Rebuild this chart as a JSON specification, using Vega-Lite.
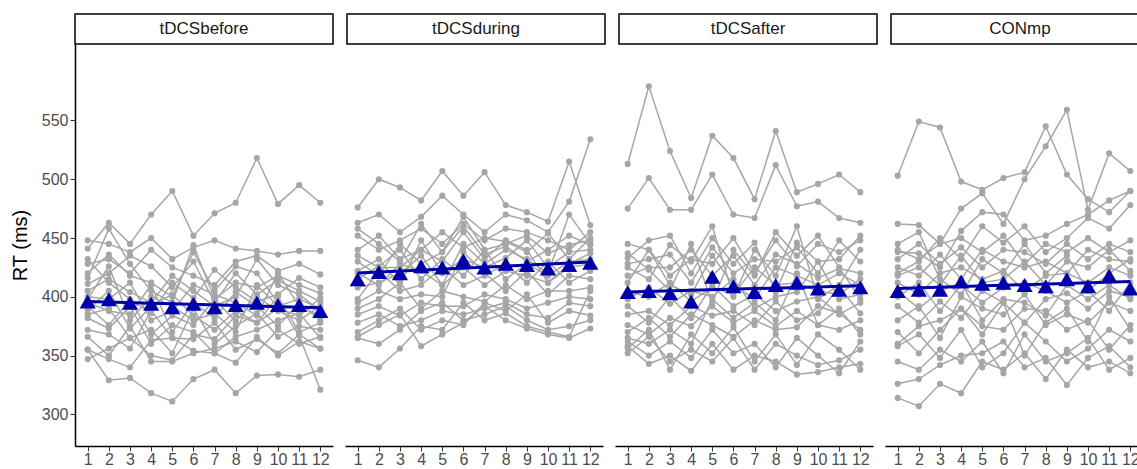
{
  "$schema": "https://vega.github.io/schema/vega-lite/v6.json",
  "padding": {"left": 10, "top": 13, "right": 0, "bottom": 0},
  "bounds": "flush",
  "spacing": 30,
  "config": {
    "view": {"stroke": null},
    "font": "Liberation Sans",
    "axis": {
      "grid": false,
      "domainColor": "black",
      "domainWidth": 1.5,
      "tickColor": "#333333",
      "tickWidth": 1,
      "tickSize": 5,
      "labelColor": "#4d4d4d",
      "labelFontSize": 16,
      "labelFont": "Liberation Sans",
      "labelPadding": 2,
      "titleFont": "Liberation Sans",
      "titleFontSize": 20,
      "titleFontWeight": "normal",
      "titleColor": "black"
    },
    "text": {"fontSize": 17}
  },
  "datasets": {
    "rt": [
      {"c":"tDCSbefore","s":1,"b":1,"y":441},{"c":"tDCSbefore","s":1,"b":2,"y":463},{"c":"tDCSbefore","s":1,"b":3,"y":445},{"c":"tDCSbefore","s":1,"b":4,"y":470},{"c":"tDCSbefore","s":1,"b":5,"y":490},{"c":"tDCSbefore","s":1,"b":6,"y":452},{"c":"tDCSbefore","s":1,"b":7,"y":471},{"c":"tDCSbefore","s":1,"b":8,"y":480},{"c":"tDCSbefore","s":1,"b":9,"y":518},{"c":"tDCSbefore","s":1,"b":10,"y":479},{"c":"tDCSbefore","s":1,"b":11,"y":495},{"c":"tDCSbefore","s":1,"b":12,"y":480},
      {"c":"tDCSbefore","s":2,"b":1,"y":355},{"c":"tDCSbefore","s":2,"b":2,"y":329},{"c":"tDCSbefore","s":2,"b":3,"y":331},{"c":"tDCSbefore","s":2,"b":4,"y":318},{"c":"tDCSbefore","s":2,"b":5,"y":311},{"c":"tDCSbefore","s":2,"b":6,"y":330},{"c":"tDCSbefore","s":2,"b":7,"y":338},{"c":"tDCSbefore","s":2,"b":8,"y":318},{"c":"tDCSbefore","s":2,"b":9,"y":333},{"c":"tDCSbefore","s":2,"b":10,"y":334},{"c":"tDCSbefore","s":2,"b":11,"y":332},{"c":"tDCSbefore","s":2,"b":12,"y":338},
      {"c":"tDCSbefore","s":3,"b":1,"y":420},{"c":"tDCSbefore","s":3,"b":2,"y":436},{"c":"tDCSbefore","s":3,"b":3,"y":418},{"c":"tDCSbefore","s":3,"b":4,"y":412},{"c":"tDCSbefore","s":3,"b":5,"y":400},{"c":"tDCSbefore","s":3,"b":6,"y":438},{"c":"tDCSbefore","s":3,"b":7,"y":405},{"c":"tDCSbefore","s":3,"b":8,"y":426},{"c":"tDCSbefore","s":3,"b":9,"y":420},{"c":"tDCSbefore","s":3,"b":10,"y":395},{"c":"tDCSbefore","s":3,"b":11,"y":367},{"c":"tDCSbefore","s":3,"b":12,"y":321},
      {"c":"tDCSbefore","s":4,"b":1,"y":448},{"c":"tDCSbefore","s":4,"b":2,"y":445},{"c":"tDCSbefore","s":4,"b":3,"y":438},{"c":"tDCSbefore","s":4,"b":4,"y":450},{"c":"tDCSbefore","s":4,"b":5,"y":432},{"c":"tDCSbefore","s":4,"b":6,"y":442},{"c":"tDCSbefore","s":4,"b":7,"y":448},{"c":"tDCSbefore","s":4,"b":8,"y":441},{"c":"tDCSbefore","s":4,"b":9,"y":439},{"c":"tDCSbefore","s":4,"b":10,"y":436},{"c":"tDCSbefore","s":4,"b":11,"y":439},{"c":"tDCSbefore","s":4,"b":12,"y":439},
      {"c":"tDCSbefore","s":5,"b":1,"y":428},{"c":"tDCSbefore","s":5,"b":2,"y":432},{"c":"tDCSbefore","s":5,"b":3,"y":420},{"c":"tDCSbefore","s":5,"b":4,"y":440},{"c":"tDCSbefore","s":5,"b":5,"y":425},{"c":"tDCSbefore","s":5,"b":6,"y":418},{"c":"tDCSbefore","s":5,"b":7,"y":410},{"c":"tDCSbefore","s":5,"b":8,"y":430},{"c":"tDCSbefore","s":5,"b":9,"y":435},{"c":"tDCSbefore","s":5,"b":10,"y":422},{"c":"tDCSbefore","s":5,"b":11,"y":428},{"c":"tDCSbefore","s":5,"b":12,"y":419},
      {"c":"tDCSbefore","s":6,"b":1,"y":416},{"c":"tDCSbefore","s":6,"b":2,"y":458},{"c":"tDCSbefore","s":6,"b":3,"y":428},{"c":"tDCSbefore","s":6,"b":4,"y":405},{"c":"tDCSbefore","s":6,"b":5,"y":395},{"c":"tDCSbefore","s":6,"b":6,"y":444},{"c":"tDCSbefore","s":6,"b":7,"y":398},{"c":"tDCSbefore","s":6,"b":8,"y":412},{"c":"tDCSbefore","s":6,"b":9,"y":408},{"c":"tDCSbefore","s":6,"b":10,"y":418},{"c":"tDCSbefore","s":6,"b":11,"y":410},{"c":"tDCSbefore","s":6,"b":12,"y":403},
      {"c":"tDCSbefore","s":7,"b":1,"y":411},{"c":"tDCSbefore","s":7,"b":2,"y":420},{"c":"tDCSbefore","s":7,"b":3,"y":435},{"c":"tDCSbefore","s":7,"b":4,"y":426},{"c":"tDCSbefore","s":7,"b":5,"y":408},{"c":"tDCSbefore","s":7,"b":6,"y":430},{"c":"tDCSbefore","s":7,"b":7,"y":395},{"c":"tDCSbefore","s":7,"b":8,"y":420},{"c":"tDCSbefore","s":7,"b":9,"y":402},{"c":"tDCSbefore","s":7,"b":10,"y":414},{"c":"tDCSbefore","s":7,"b":11,"y":405},{"c":"tDCSbefore","s":7,"b":12,"y":396},
      {"c":"tDCSbefore","s":8,"b":1,"y":405},{"c":"tDCSbefore","s":8,"b":2,"y":415},{"c":"tDCSbefore","s":8,"b":3,"y":404},{"c":"tDCSbefore","s":8,"b":4,"y":395},{"c":"tDCSbefore","s":8,"b":5,"y":418},{"c":"tDCSbefore","s":8,"b":6,"y":405},{"c":"tDCSbefore","s":8,"b":7,"y":392},{"c":"tDCSbefore","s":8,"b":8,"y":400},{"c":"tDCSbefore","s":8,"b":9,"y":432},{"c":"tDCSbefore","s":8,"b":10,"y":410},{"c":"tDCSbefore","s":8,"b":11,"y":402},{"c":"tDCSbefore","s":8,"b":12,"y":388},
      {"c":"tDCSbefore","s":9,"b":1,"y":400},{"c":"tDCSbefore","s":9,"b":2,"y":398},{"c":"tDCSbefore","s":9,"b":3,"y":412},{"c":"tDCSbefore","s":9,"b":4,"y":380},{"c":"tDCSbefore","s":9,"b":5,"y":388},{"c":"tDCSbefore","s":9,"b":6,"y":410},{"c":"tDCSbefore","s":9,"b":7,"y":402},{"c":"tDCSbefore","s":9,"b":8,"y":395},{"c":"tDCSbefore","s":9,"b":9,"y":384},{"c":"tDCSbefore","s":9,"b":10,"y":420},{"c":"tDCSbefore","s":9,"b":11,"y":392},{"c":"tDCSbefore","s":9,"b":12,"y":384},
      {"c":"tDCSbefore","s":10,"b":1,"y":395},{"c":"tDCSbefore","s":10,"b":2,"y":388},{"c":"tDCSbefore","s":10,"b":3,"y":385},{"c":"tDCSbefore","s":10,"b":4,"y":410},{"c":"tDCSbefore","s":10,"b":5,"y":370},{"c":"tDCSbefore","s":10,"b":6,"y":395},{"c":"tDCSbefore","s":10,"b":7,"y":382},{"c":"tDCSbefore","s":10,"b":8,"y":404},{"c":"tDCSbefore","s":10,"b":9,"y":392},{"c":"tDCSbefore","s":10,"b":10,"y":375},{"c":"tDCSbefore","s":10,"b":11,"y":395},{"c":"tDCSbefore","s":10,"b":12,"y":380},
      {"c":"tDCSbefore","s":11,"b":1,"y":392},{"c":"tDCSbefore","s":11,"b":2,"y":376},{"c":"tDCSbefore","s":11,"b":3,"y":397},{"c":"tDCSbefore","s":11,"b":4,"y":368},{"c":"tDCSbefore","s":11,"b":5,"y":384},{"c":"tDCSbefore","s":11,"b":6,"y":376},{"c":"tDCSbefore","s":11,"b":7,"y":398},{"c":"tDCSbefore","s":11,"b":8,"y":379},{"c":"tDCSbefore","s":11,"b":9,"y":400},{"c":"tDCSbefore","s":11,"b":10,"y":388},{"c":"tDCSbefore","s":11,"b":11,"y":380},{"c":"tDCSbefore","s":11,"b":12,"y":392},
      {"c":"tDCSbefore","s":12,"b":1,"y":389},{"c":"tDCSbefore","s":12,"b":2,"y":405},{"c":"tDCSbefore","s":12,"b":3,"y":373},{"c":"tDCSbefore","s":12,"b":4,"y":392},{"c":"tDCSbefore","s":12,"b":5,"y":402},{"c":"tDCSbefore","s":12,"b":6,"y":384},{"c":"tDCSbefore","s":12,"b":7,"y":372},{"c":"tDCSbefore","s":12,"b":8,"y":388},{"c":"tDCSbefore","s":12,"b":9,"y":378},{"c":"tDCSbefore","s":12,"b":10,"y":400},{"c":"tDCSbefore","s":12,"b":11,"y":370},{"c":"tDCSbefore","s":12,"b":12,"y":378},
      {"c":"tDCSbefore","s":13,"b":1,"y":385},{"c":"tDCSbefore","s":13,"b":2,"y":390},{"c":"tDCSbefore","s":13,"b":3,"y":365},{"c":"tDCSbefore","s":13,"b":4,"y":372},{"c":"tDCSbefore","s":13,"b":5,"y":352},{"c":"tDCSbefore","s":13,"b":6,"y":390},{"c":"tDCSbefore","s":13,"b":7,"y":360},{"c":"tDCSbefore","s":13,"b":8,"y":375},{"c":"tDCSbefore","s":13,"b":9,"y":386},{"c":"tDCSbefore","s":13,"b":10,"y":366},{"c":"tDCSbefore","s":13,"b":11,"y":375},{"c":"tDCSbefore","s":13,"b":12,"y":372},
      {"c":"tDCSbefore","s":14,"b":1,"y":382},{"c":"tDCSbefore","s":14,"b":2,"y":373},{"c":"tDCSbefore","s":14,"b":3,"y":392},{"c":"tDCSbefore","s":14,"b":4,"y":360},{"c":"tDCSbefore","s":14,"b":5,"y":376},{"c":"tDCSbefore","s":14,"b":6,"y":370},{"c":"tDCSbefore","s":14,"b":7,"y":352},{"c":"tDCSbefore","s":14,"b":8,"y":366},{"c":"tDCSbefore","s":14,"b":9,"y":372},{"c":"tDCSbefore","s":14,"b":10,"y":380},{"c":"tDCSbefore","s":14,"b":11,"y":386},{"c":"tDCSbefore","s":14,"b":12,"y":365},
      {"c":"tDCSbefore","s":15,"b":1,"y":372},{"c":"tDCSbefore","s":15,"b":2,"y":368},{"c":"tDCSbefore","s":15,"b":3,"y":356},{"c":"tDCSbefore","s":15,"b":4,"y":388},{"c":"tDCSbefore","s":15,"b":5,"y":365},{"c":"tDCSbefore","s":15,"b":6,"y":364},{"c":"tDCSbefore","s":15,"b":7,"y":378},{"c":"tDCSbefore","s":15,"b":8,"y":355},{"c":"tDCSbefore","s":15,"b":9,"y":364},{"c":"tDCSbefore","s":15,"b":10,"y":352},{"c":"tDCSbefore","s":15,"b":11,"y":368},{"c":"tDCSbefore","s":15,"b":12,"y":356},
      {"c":"tDCSbefore","s":16,"b":1,"y":366},{"c":"tDCSbefore","s":16,"b":2,"y":350},{"c":"tDCSbefore","s":16,"b":3,"y":375},{"c":"tDCSbefore","s":16,"b":4,"y":345},{"c":"tDCSbefore","s":16,"b":5,"y":345},{"c":"tDCSbefore","s":16,"b":6,"y":352},{"c":"tDCSbefore","s":16,"b":7,"y":356},{"c":"tDCSbefore","s":16,"b":8,"y":362},{"c":"tDCSbefore","s":16,"b":9,"y":353},{"c":"tDCSbefore","s":16,"b":10,"y":372},{"c":"tDCSbefore","s":16,"b":11,"y":360},{"c":"tDCSbefore","s":16,"b":12,"y":366},
      {"c":"tDCSbefore","s":17,"b":1,"y":355},{"c":"tDCSbefore","s":17,"b":2,"y":347},{"c":"tDCSbefore","s":17,"b":3,"y":340},{"c":"tDCSbefore","s":17,"b":4,"y":363},{"c":"tDCSbefore","s":17,"b":5,"y":365},{"c":"tDCSbefore","s":17,"b":6,"y":354},{"c":"tDCSbefore","s":17,"b":7,"y":352},{"c":"tDCSbefore","s":17,"b":8,"y":344},{"c":"tDCSbefore","s":17,"b":9,"y":366},{"c":"tDCSbefore","s":17,"b":10,"y":350},{"c":"tDCSbefore","s":17,"b":11,"y":362},{"c":"tDCSbefore","s":17,"b":12,"y":356},
      {"c":"tDCSbefore","s":18,"b":1,"y":347},{"c":"tDCSbefore","s":18,"b":2,"y":356},{"c":"tDCSbefore","s":18,"b":3,"y":365},{"c":"tDCSbefore","s":18,"b":4,"y":350},{"c":"tDCSbefore","s":18,"b":5,"y":346},{"c":"tDCSbefore","s":18,"b":6,"y":368},{"c":"tDCSbefore","s":18,"b":7,"y":364},{"c":"tDCSbefore","s":18,"b":8,"y":384},{"c":"tDCSbefore","s":18,"b":9,"y":378},{"c":"tDCSbefore","s":18,"b":10,"y":390},{"c":"tDCSbefore","s":18,"b":11,"y":384},{"c":"tDCSbefore","s":18,"b":12,"y":399},
      {"c":"tDCSbefore","s":19,"b":1,"y":432},{"c":"tDCSbefore","s":19,"b":2,"y":412},{"c":"tDCSbefore","s":19,"b":3,"y":398},{"c":"tDCSbefore","s":19,"b":4,"y":386},{"c":"tDCSbefore","s":19,"b":5,"y":412},{"c":"tDCSbefore","s":19,"b":6,"y":399},{"c":"tDCSbefore","s":19,"b":7,"y":423},{"c":"tDCSbefore","s":19,"b":8,"y":408},{"c":"tDCSbefore","s":19,"b":9,"y":396},{"c":"tDCSbefore","s":19,"b":10,"y":402},{"c":"tDCSbefore","s":19,"b":11,"y":416},{"c":"tDCSbefore","s":19,"b":12,"y":408},
      {"c":"tDCSbefore","s":20,"b":1,"y":398},{"c":"tDCSbefore","s":20,"b":2,"y":426},{"c":"tDCSbefore","s":20,"b":3,"y":380},{"c":"tDCSbefore","s":20,"b":4,"y":400},{"c":"tDCSbefore","s":20,"b":5,"y":392},{"c":"tDCSbefore","s":20,"b":6,"y":380},{"c":"tDCSbefore","s":20,"b":7,"y":386},{"c":"tDCSbefore","s":20,"b":8,"y":370},{"c":"tDCSbefore","s":20,"b":9,"y":410},{"c":"tDCSbefore","s":20,"b":10,"y":392},{"c":"tDCSbefore","s":20,"b":11,"y":398},{"c":"tDCSbefore","s":20,"b":12,"y":390},

      {"c":"tDCSduring","s":1,"b":1,"y":476},{"c":"tDCSduring","s":1,"b":2,"y":500},{"c":"tDCSduring","s":1,"b":3,"y":493},{"c":"tDCSduring","s":1,"b":4,"y":482},{"c":"tDCSduring","s":1,"b":5,"y":507},{"c":"tDCSduring","s":1,"b":6,"y":486},{"c":"tDCSduring","s":1,"b":7,"y":506},{"c":"tDCSduring","s":1,"b":8,"y":478},{"c":"tDCSduring","s":1,"b":9,"y":472},{"c":"tDCSduring","s":1,"b":10,"y":464},{"c":"tDCSduring","s":1,"b":11,"y":515},{"c":"tDCSduring","s":1,"b":12,"y":461},
      {"c":"tDCSduring","s":2,"b":1,"y":463},{"c":"tDCSduring","s":2,"b":2,"y":470},{"c":"tDCSduring","s":2,"b":3,"y":455},{"c":"tDCSduring","s":2,"b":4,"y":468},{"c":"tDCSduring","s":2,"b":5,"y":486},{"c":"tDCSduring","s":2,"b":6,"y":470},{"c":"tDCSduring","s":2,"b":7,"y":455},{"c":"tDCSduring","s":2,"b":8,"y":470},{"c":"tDCSduring","s":2,"b":9,"y":465},{"c":"tDCSduring","s":2,"b":10,"y":455},{"c":"tDCSduring","s":2,"b":11,"y":481},{"c":"tDCSduring","s":2,"b":12,"y":534},
      {"c":"tDCSduring","s":3,"b":1,"y":346},{"c":"tDCSduring","s":3,"b":2,"y":340},{"c":"tDCSduring","s":3,"b":3,"y":356},{"c":"tDCSduring","s":3,"b":4,"y":375},{"c":"tDCSduring","s":3,"b":5,"y":372},{"c":"tDCSduring","s":3,"b":6,"y":395},{"c":"tDCSduring","s":3,"b":7,"y":380},{"c":"tDCSduring","s":3,"b":8,"y":386},{"c":"tDCSduring","s":3,"b":9,"y":375},{"c":"tDCSduring","s":3,"b":10,"y":370},{"c":"tDCSduring","s":3,"b":11,"y":366},{"c":"tDCSduring","s":3,"b":12,"y":405},
      {"c":"tDCSduring","s":4,"b":1,"y":366},{"c":"tDCSduring","s":4,"b":2,"y":376},{"c":"tDCSduring","s":4,"b":3,"y":385},{"c":"tDCSduring","s":4,"b":4,"y":358},{"c":"tDCSduring","s":4,"b":5,"y":368},{"c":"tDCSduring","s":4,"b":6,"y":378},{"c":"tDCSduring","s":4,"b":7,"y":392},{"c":"tDCSduring","s":4,"b":8,"y":380},{"c":"tDCSduring","s":4,"b":9,"y":373},{"c":"tDCSduring","s":4,"b":10,"y":368},{"c":"tDCSduring","s":4,"b":11,"y":365},{"c":"tDCSduring","s":4,"b":12,"y":373},
      {"c":"tDCSduring","s":5,"b":1,"y":452},{"c":"tDCSduring","s":5,"b":2,"y":440},{"c":"tDCSduring","s":5,"b":3,"y":448},{"c":"tDCSduring","s":5,"b":4,"y":458},{"c":"tDCSduring","s":5,"b":5,"y":445},{"c":"tDCSduring","s":5,"b":6,"y":462},{"c":"tDCSduring","s":5,"b":7,"y":448},{"c":"tDCSduring","s":5,"b":8,"y":458},{"c":"tDCSduring","s":5,"b":9,"y":455},{"c":"tDCSduring","s":5,"b":10,"y":448},{"c":"tDCSduring","s":5,"b":11,"y":440},{"c":"tDCSduring","s":5,"b":12,"y":455},
      {"c":"tDCSduring","s":6,"b":1,"y":440},{"c":"tDCSduring","s":6,"b":2,"y":452},{"c":"tDCSduring","s":6,"b":3,"y":432},{"c":"tDCSduring","s":6,"b":4,"y":440},{"c":"tDCSduring","s":6,"b":5,"y":455},{"c":"tDCSduring","s":6,"b":6,"y":442},{"c":"tDCSduring","s":6,"b":7,"y":450},{"c":"tDCSduring","s":6,"b":8,"y":447},{"c":"tDCSduring","s":6,"b":9,"y":438},{"c":"tDCSduring","s":6,"b":10,"y":454},{"c":"tDCSduring","s":6,"b":11,"y":432},{"c":"tDCSduring","s":6,"b":12,"y":450},
      {"c":"tDCSduring","s":7,"b":1,"y":430},{"c":"tDCSduring","s":7,"b":2,"y":418},{"c":"tDCSduring","s":7,"b":3,"y":445},{"c":"tDCSduring","s":7,"b":4,"y":428},{"c":"tDCSduring","s":7,"b":5,"y":438},{"c":"tDCSduring","s":7,"b":6,"y":460},{"c":"tDCSduring","s":7,"b":7,"y":436},{"c":"tDCSduring","s":7,"b":8,"y":443},{"c":"tDCSduring","s":7,"b":9,"y":430},{"c":"tDCSduring","s":7,"b":10,"y":440},{"c":"tDCSduring","s":7,"b":11,"y":452},{"c":"tDCSduring","s":7,"b":12,"y":444},
      {"c":"tDCSduring","s":8,"b":1,"y":422},{"c":"tDCSduring","s":8,"b":2,"y":432},{"c":"tDCSduring","s":8,"b":3,"y":410},{"c":"tDCSduring","s":8,"b":4,"y":448},{"c":"tDCSduring","s":8,"b":5,"y":420},{"c":"tDCSduring","s":8,"b":6,"y":432},{"c":"tDCSduring","s":8,"b":7,"y":425},{"c":"tDCSduring","s":8,"b":8,"y":433},{"c":"tDCSduring","s":8,"b":9,"y":448},{"c":"tDCSduring","s":8,"b":10,"y":425},{"c":"tDCSduring","s":8,"b":11,"y":438},{"c":"tDCSduring","s":8,"b":12,"y":440},
      {"c":"tDCSduring","s":9,"b":1,"y":415},{"c":"tDCSduring","s":9,"b":2,"y":426},{"c":"tDCSduring","s":9,"b":3,"y":440},{"c":"tDCSduring","s":9,"b":4,"y":415},{"c":"tDCSduring","s":9,"b":5,"y":432},{"c":"tDCSduring","s":9,"b":6,"y":418},{"c":"tDCSduring","s":9,"b":7,"y":440},{"c":"tDCSduring","s":9,"b":8,"y":415},{"c":"tDCSduring","s":9,"b":9,"y":428},{"c":"tDCSduring","s":9,"b":10,"y":418},{"c":"tDCSduring","s":9,"b":11,"y":430},{"c":"tDCSduring","s":9,"b":12,"y":432},
      {"c":"tDCSduring","s":10,"b":1,"y":408},{"c":"tDCSduring","s":10,"b":2,"y":412},{"c":"tDCSduring","s":10,"b":3,"y":420},{"c":"tDCSduring","s":10,"b":4,"y":435},{"c":"tDCSduring","s":10,"b":5,"y":410},{"c":"tDCSduring","s":10,"b":6,"y":425},{"c":"tDCSduring","s":10,"b":7,"y":410},{"c":"tDCSduring","s":10,"b":8,"y":422},{"c":"tDCSduring","s":10,"b":9,"y":418},{"c":"tDCSduring","s":10,"b":10,"y":412},{"c":"tDCSduring","s":10,"b":11,"y":425},{"c":"tDCSduring","s":10,"b":12,"y":428},
      {"c":"tDCSduring","s":11,"b":1,"y":398},{"c":"tDCSduring","s":11,"b":2,"y":422},{"c":"tDCSduring","s":11,"b":3,"y":405},{"c":"tDCSduring","s":11,"b":4,"y":410},{"c":"tDCSduring","s":11,"b":5,"y":425},{"c":"tDCSduring","s":11,"b":6,"y":410},{"c":"tDCSduring","s":11,"b":7,"y":418},{"c":"tDCSduring","s":11,"b":8,"y":428},{"c":"tDCSduring","s":11,"b":9,"y":412},{"c":"tDCSduring","s":11,"b":10,"y":430},{"c":"tDCSduring","s":11,"b":11,"y":412},{"c":"tDCSduring","s":11,"b":12,"y":422},
      {"c":"tDCSduring","s":12,"b":1,"y":395},{"c":"tDCSduring","s":12,"b":2,"y":405},{"c":"tDCSduring","s":12,"b":3,"y":398},{"c":"tDCSduring","s":12,"b":4,"y":402},{"c":"tDCSduring","s":12,"b":5,"y":400},{"c":"tDCSduring","s":12,"b":6,"y":438},{"c":"tDCSduring","s":12,"b":7,"y":420},{"c":"tDCSduring","s":12,"b":8,"y":405},{"c":"tDCSduring","s":12,"b":9,"y":422},{"c":"tDCSduring","s":12,"b":10,"y":402},{"c":"tDCSduring","s":12,"b":11,"y":418},{"c":"tDCSduring","s":12,"b":12,"y":415},
      {"c":"tDCSduring","s":13,"b":1,"y":390},{"c":"tDCSduring","s":13,"b":2,"y":398},{"c":"tDCSduring","s":13,"b":3,"y":412},{"c":"tDCSduring","s":13,"b":4,"y":390},{"c":"tDCSduring","s":13,"b":5,"y":405},{"c":"tDCSduring","s":13,"b":6,"y":400},{"c":"tDCSduring","s":13,"b":7,"y":396},{"c":"tDCSduring","s":13,"b":8,"y":410},{"c":"tDCSduring","s":13,"b":9,"y":398},{"c":"tDCSduring","s":13,"b":10,"y":405},{"c":"tDCSduring","s":13,"b":11,"y":405},{"c":"tDCSduring","s":13,"b":12,"y":408},
      {"c":"tDCSduring","s":14,"b":1,"y":385},{"c":"tDCSduring","s":14,"b":2,"y":392},{"c":"tDCSduring","s":14,"b":3,"y":384},{"c":"tDCSduring","s":14,"b":4,"y":395},{"c":"tDCSduring","s":14,"b":5,"y":392},{"c":"tDCSduring","s":14,"b":6,"y":392},{"c":"tDCSduring","s":14,"b":7,"y":402},{"c":"tDCSduring","s":14,"b":8,"y":398},{"c":"tDCSduring","s":14,"b":9,"y":390},{"c":"tDCSduring","s":14,"b":10,"y":395},{"c":"tDCSduring","s":14,"b":11,"y":400},{"c":"tDCSduring","s":14,"b":12,"y":398},
      {"c":"tDCSduring","s":15,"b":1,"y":378},{"c":"tDCSduring","s":15,"b":2,"y":385},{"c":"tDCSduring","s":15,"b":3,"y":375},{"c":"tDCSduring","s":15,"b":4,"y":380},{"c":"tDCSduring","s":15,"b":5,"y":388},{"c":"tDCSduring","s":15,"b":6,"y":385},{"c":"tDCSduring","s":15,"b":7,"y":390},{"c":"tDCSduring","s":15,"b":8,"y":395},{"c":"tDCSduring","s":15,"b":9,"y":385},{"c":"tDCSduring","s":15,"b":10,"y":382},{"c":"tDCSduring","s":15,"b":11,"y":395},{"c":"tDCSduring","s":15,"b":12,"y":392},
      {"c":"tDCSduring","s":16,"b":1,"y":370},{"c":"tDCSduring","s":16,"b":2,"y":380},{"c":"tDCSduring","s":16,"b":3,"y":390},{"c":"tDCSduring","s":16,"b":4,"y":372},{"c":"tDCSduring","s":16,"b":5,"y":380},{"c":"tDCSduring","s":16,"b":6,"y":376},{"c":"tDCSduring","s":16,"b":7,"y":395},{"c":"tDCSduring","s":16,"b":8,"y":388},{"c":"tDCSduring","s":16,"b":9,"y":402},{"c":"tDCSduring","s":16,"b":10,"y":378},{"c":"tDCSduring","s":16,"b":11,"y":388},{"c":"tDCSduring","s":16,"b":12,"y":384},
      {"c":"tDCSduring","s":17,"b":1,"y":365},{"c":"tDCSduring","s":17,"b":2,"y":360},{"c":"tDCSduring","s":17,"b":3,"y":372},{"c":"tDCSduring","s":17,"b":4,"y":388},{"c":"tDCSduring","s":17,"b":5,"y":395},{"c":"tDCSduring","s":17,"b":6,"y":380},{"c":"tDCSduring","s":17,"b":7,"y":385},{"c":"tDCSduring","s":17,"b":8,"y":392},{"c":"tDCSduring","s":17,"b":9,"y":380},{"c":"tDCSduring","s":17,"b":10,"y":372},{"c":"tDCSduring","s":17,"b":11,"y":375},{"c":"tDCSduring","s":17,"b":12,"y":380},
      {"c":"tDCSduring","s":18,"b":1,"y":420},{"c":"tDCSduring","s":18,"b":2,"y":410},{"c":"tDCSduring","s":18,"b":3,"y":428},{"c":"tDCSduring","s":18,"b":4,"y":422},{"c":"tDCSduring","s":18,"b":5,"y":410},{"c":"tDCSduring","s":18,"b":6,"y":445},{"c":"tDCSduring","s":18,"b":7,"y":428},{"c":"tDCSduring","s":18,"b":8,"y":440},{"c":"tDCSduring","s":18,"b":9,"y":432},{"c":"tDCSduring","s":18,"b":10,"y":420},{"c":"tDCSduring","s":18,"b":11,"y":470},{"c":"tDCSduring","s":18,"b":12,"y":445},
      {"c":"tDCSduring","s":19,"b":1,"y":435},{"c":"tDCSduring","s":19,"b":2,"y":425},{"c":"tDCSduring","s":19,"b":3,"y":425},{"c":"tDCSduring","s":19,"b":4,"y":440},{"c":"tDCSduring","s":19,"b":5,"y":430},{"c":"tDCSduring","s":19,"b":6,"y":455},{"c":"tDCSduring","s":19,"b":7,"y":432},{"c":"tDCSduring","s":19,"b":8,"y":448},{"c":"tDCSduring","s":19,"b":9,"y":440},{"c":"tDCSduring","s":19,"b":10,"y":412},{"c":"tDCSduring","s":19,"b":11,"y":428},{"c":"tDCSduring","s":19,"b":12,"y":437},
      {"c":"tDCSduring","s":20,"b":1,"y":458},{"c":"tDCSduring","s":20,"b":2,"y":445},{"c":"tDCSduring","s":20,"b":3,"y":430},{"c":"tDCSduring","s":20,"b":4,"y":462},{"c":"tDCSduring","s":20,"b":5,"y":438},{"c":"tDCSduring","s":20,"b":6,"y":468},{"c":"tDCSduring","s":20,"b":7,"y":440},{"c":"tDCSduring","s":20,"b":8,"y":445},{"c":"tDCSduring","s":20,"b":9,"y":452},{"c":"tDCSduring","s":20,"b":10,"y":437},{"c":"tDCSduring","s":20,"b":11,"y":444},{"c":"tDCSduring","s":20,"b":12,"y":448},

      {"c":"tDCSafter","s":1,"b":1,"y":513},{"c":"tDCSafter","s":1,"b":2,"y":579},{"c":"tDCSafter","s":1,"b":3,"y":524},{"c":"tDCSafter","s":1,"b":4,"y":484},{"c":"tDCSafter","s":1,"b":5,"y":537},{"c":"tDCSafter","s":1,"b":6,"y":518},{"c":"tDCSafter","s":1,"b":7,"y":483},{"c":"tDCSafter","s":1,"b":8,"y":541},{"c":"tDCSafter","s":1,"b":9,"y":489},{"c":"tDCSafter","s":1,"b":10,"y":496},{"c":"tDCSafter","s":1,"b":11,"y":504},{"c":"tDCSafter","s":1,"b":12,"y":489},
      {"c":"tDCSafter","s":2,"b":1,"y":475},{"c":"tDCSafter","s":2,"b":2,"y":501},{"c":"tDCSafter","s":2,"b":3,"y":474},{"c":"tDCSafter","s":2,"b":4,"y":474},{"c":"tDCSafter","s":2,"b":5,"y":504},{"c":"tDCSafter","s":2,"b":6,"y":470},{"c":"tDCSafter","s":2,"b":7,"y":467},{"c":"tDCSafter","s":2,"b":8,"y":512},{"c":"tDCSafter","s":2,"b":9,"y":477},{"c":"tDCSafter","s":2,"b":10,"y":481},{"c":"tDCSafter","s":2,"b":11,"y":467},{"c":"tDCSafter","s":2,"b":12,"y":463},
      {"c":"tDCSafter","s":3,"b":1,"y":358},{"c":"tDCSafter","s":3,"b":2,"y":343},{"c":"tDCSafter","s":3,"b":3,"y":350},{"c":"tDCSafter","s":3,"b":4,"y":337},{"c":"tDCSafter","s":3,"b":5,"y":360},{"c":"tDCSafter","s":3,"b":6,"y":338},{"c":"tDCSafter","s":3,"b":7,"y":350},{"c":"tDCSafter","s":3,"b":8,"y":345},{"c":"tDCSafter","s":3,"b":9,"y":334},{"c":"tDCSafter","s":3,"b":10,"y":336},{"c":"tDCSafter","s":3,"b":11,"y":340},{"c":"tDCSafter","s":3,"b":12,"y":343},
      {"c":"tDCSafter","s":4,"b":1,"y":352},{"c":"tDCSafter","s":4,"b":2,"y":366},{"c":"tDCSafter","s":4,"b":3,"y":345},{"c":"tDCSafter","s":4,"b":4,"y":355},{"c":"tDCSafter","s":4,"b":5,"y":345},{"c":"tDCSafter","s":4,"b":6,"y":365},{"c":"tDCSafter","s":4,"b":7,"y":338},{"c":"tDCSafter","s":4,"b":8,"y":360},{"c":"tDCSafter","s":4,"b":9,"y":350},{"c":"tDCSafter","s":4,"b":10,"y":342},{"c":"tDCSafter","s":4,"b":11,"y":346},{"c":"tDCSafter","s":4,"b":12,"y":355},
      {"c":"tDCSafter","s":5,"b":1,"y":362},{"c":"tDCSafter","s":5,"b":2,"y":350},{"c":"tDCSafter","s":5,"b":3,"y":362},{"c":"tDCSafter","s":5,"b":4,"y":348},{"c":"tDCSafter","s":5,"b":5,"y":372},{"c":"tDCSafter","s":5,"b":6,"y":352},{"c":"tDCSafter","s":5,"b":7,"y":360},{"c":"tDCSafter","s":5,"b":8,"y":340},{"c":"tDCSafter","s":5,"b":9,"y":365},{"c":"tDCSafter","s":5,"b":10,"y":350},{"c":"tDCSafter","s":5,"b":11,"y":335},{"c":"tDCSafter","s":5,"b":12,"y":362},
      {"c":"tDCSafter","s":6,"b":1,"y":356},{"c":"tDCSafter","s":6,"b":2,"y":372},{"c":"tDCSafter","s":6,"b":3,"y":338},{"c":"tDCSafter","s":6,"b":4,"y":368},{"c":"tDCSafter","s":6,"b":5,"y":352},{"c":"tDCSafter","s":6,"b":6,"y":374},{"c":"tDCSafter","s":6,"b":7,"y":345},{"c":"tDCSafter","s":6,"b":8,"y":368},{"c":"tDCSafter","s":6,"b":9,"y":342},{"c":"tDCSafter","s":6,"b":10,"y":368},{"c":"tDCSafter","s":6,"b":11,"y":355},{"c":"tDCSafter","s":6,"b":12,"y":338},
      {"c":"tDCSafter","s":7,"b":1,"y":433},{"c":"tDCSafter","s":7,"b":2,"y":448},{"c":"tDCSafter","s":7,"b":3,"y":452},{"c":"tDCSafter","s":7,"b":4,"y":420},{"c":"tDCSafter","s":7,"b":5,"y":450},{"c":"tDCSafter","s":7,"b":6,"y":428},{"c":"tDCSafter","s":7,"b":7,"y":446},{"c":"tDCSafter","s":7,"b":8,"y":404},{"c":"tDCSafter","s":7,"b":9,"y":446},{"c":"tDCSafter","s":7,"b":10,"y":430},{"c":"tDCSafter","s":7,"b":11,"y":432},{"c":"tDCSafter","s":7,"b":12,"y":452},
      {"c":"tDCSafter","s":8,"b":1,"y":445},{"c":"tDCSafter","s":8,"b":2,"y":440},{"c":"tDCSafter","s":8,"b":3,"y":418},{"c":"tDCSafter","s":8,"b":4,"y":432},{"c":"tDCSafter","s":8,"b":5,"y":428},{"c":"tDCSafter","s":8,"b":6,"y":450},{"c":"tDCSafter","s":8,"b":7,"y":420},{"c":"tDCSafter","s":8,"b":8,"y":448},{"c":"tDCSafter","s":8,"b":9,"y":426},{"c":"tDCSafter","s":8,"b":10,"y":445},{"c":"tDCSafter","s":8,"b":11,"y":438},{"c":"tDCSafter","s":8,"b":12,"y":448},
      {"c":"tDCSafter","s":9,"b":1,"y":428},{"c":"tDCSafter","s":9,"b":2,"y":432},{"c":"tDCSafter","s":9,"b":3,"y":436},{"c":"tDCSafter","s":9,"b":4,"y":412},{"c":"tDCSafter","s":9,"b":5,"y":442},{"c":"tDCSafter","s":9,"b":6,"y":420},{"c":"tDCSafter","s":9,"b":7,"y":432},{"c":"tDCSafter","s":9,"b":8,"y":430},{"c":"tDCSafter","s":9,"b":9,"y":442},{"c":"tDCSafter","s":9,"b":10,"y":420},{"c":"tDCSafter","s":9,"b":11,"y":448},{"c":"tDCSafter","s":9,"b":12,"y":430},
      {"c":"tDCSafter","s":10,"b":1,"y":418},{"c":"tDCSafter","s":10,"b":2,"y":425},{"c":"tDCSafter","s":10,"b":3,"y":425},{"c":"tDCSafter","s":10,"b":4,"y":440},{"c":"tDCSafter","s":10,"b":5,"y":418},{"c":"tDCSafter","s":10,"b":6,"y":435},{"c":"tDCSafter","s":10,"b":7,"y":410},{"c":"tDCSafter","s":10,"b":8,"y":436},{"c":"tDCSafter","s":10,"b":9,"y":428},{"c":"tDCSafter","s":10,"b":10,"y":416},{"c":"tDCSafter","s":10,"b":11,"y":424},{"c":"tDCSafter","s":10,"b":12,"y":420},
      {"c":"tDCSafter","s":11,"b":1,"y":412},{"c":"tDCSafter","s":11,"b":2,"y":440},{"c":"tDCSafter","s":11,"b":3,"y":410},{"c":"tDCSafter","s":11,"b":4,"y":402},{"c":"tDCSafter","s":11,"b":5,"y":435},{"c":"tDCSafter","s":11,"b":6,"y":410},{"c":"tDCSafter","s":11,"b":7,"y":398},{"c":"tDCSafter","s":11,"b":8,"y":425},{"c":"tDCSafter","s":11,"b":9,"y":418},{"c":"tDCSafter","s":11,"b":10,"y":410},{"c":"tDCSafter","s":11,"b":11,"y":420},{"c":"tDCSafter","s":11,"b":12,"y":410},
      {"c":"tDCSafter","s":12,"b":1,"y":404},{"c":"tDCSafter","s":12,"b":2,"y":400},{"c":"tDCSafter","s":12,"b":3,"y":412},{"c":"tDCSafter","s":12,"b":4,"y":396},{"c":"tDCSafter","s":12,"b":5,"y":408},{"c":"tDCSafter","s":12,"b":6,"y":402},{"c":"tDCSafter","s":12,"b":7,"y":425},{"c":"tDCSafter","s":12,"b":8,"y":410},{"c":"tDCSafter","s":12,"b":9,"y":412},{"c":"tDCSafter","s":12,"b":10,"y":405},{"c":"tDCSafter","s":12,"b":11,"y":402},{"c":"tDCSafter","s":12,"b":12,"y":415},
      {"c":"tDCSafter","s":13,"b":1,"y":398},{"c":"tDCSafter","s":13,"b":2,"y":408},{"c":"tDCSafter","s":13,"b":3,"y":394},{"c":"tDCSafter","s":13,"b":4,"y":405},{"c":"tDCSafter","s":13,"b":5,"y":400},{"c":"tDCSafter","s":13,"b":6,"y":415},{"c":"tDCSafter","s":13,"b":7,"y":390},{"c":"tDCSafter","s":13,"b":8,"y":400},{"c":"tDCSafter","s":13,"b":9,"y":404},{"c":"tDCSafter","s":13,"b":10,"y":430},{"c":"tDCSafter","s":13,"b":11,"y":398},{"c":"tDCSafter","s":13,"b":12,"y":402},
      {"c":"tDCSafter","s":14,"b":1,"y":392},{"c":"tDCSafter","s":14,"b":2,"y":378},{"c":"tDCSafter","s":14,"b":3,"y":400},{"c":"tDCSafter","s":14,"b":4,"y":382},{"c":"tDCSafter","s":14,"b":5,"y":410},{"c":"tDCSafter","s":14,"b":6,"y":392},{"c":"tDCSafter","s":14,"b":7,"y":402},{"c":"tDCSafter","s":14,"b":8,"y":388},{"c":"tDCSafter","s":14,"b":9,"y":396},{"c":"tDCSafter","s":14,"b":10,"y":400},{"c":"tDCSafter","s":14,"b":11,"y":385},{"c":"tDCSafter","s":14,"b":12,"y":395},
      {"c":"tDCSafter","s":15,"b":1,"y":385},{"c":"tDCSafter","s":15,"b":2,"y":388},{"c":"tDCSafter","s":15,"b":3,"y":376},{"c":"tDCSafter","s":15,"b":4,"y":392},{"c":"tDCSafter","s":15,"b":5,"y":384},{"c":"tDCSafter","s":15,"b":6,"y":388},{"c":"tDCSafter","s":15,"b":7,"y":376},{"c":"tDCSafter","s":15,"b":8,"y":396},{"c":"tDCSafter","s":15,"b":9,"y":380},{"c":"tDCSafter","s":15,"b":10,"y":386},{"c":"tDCSafter","s":15,"b":11,"y":408},{"c":"tDCSafter","s":15,"b":12,"y":386},
      {"c":"tDCSafter","s":16,"b":1,"y":376},{"c":"tDCSafter","s":16,"b":2,"y":368},{"c":"tDCSafter","s":16,"b":3,"y":382},{"c":"tDCSafter","s":16,"b":4,"y":375},{"c":"tDCSafter","s":16,"b":5,"y":392},{"c":"tDCSafter","s":16,"b":6,"y":378},{"c":"tDCSafter","s":16,"b":7,"y":388},{"c":"tDCSafter","s":16,"b":8,"y":375},{"c":"tDCSafter","s":16,"b":9,"y":388},{"c":"tDCSafter","s":16,"b":10,"y":376},{"c":"tDCSafter","s":16,"b":11,"y":372},{"c":"tDCSafter","s":16,"b":12,"y":380},
      {"c":"tDCSafter","s":17,"b":1,"y":370},{"c":"tDCSafter","s":17,"b":2,"y":382},{"c":"tDCSafter","s":17,"b":3,"y":366},{"c":"tDCSafter","s":17,"b":4,"y":385},{"c":"tDCSafter","s":17,"b":5,"y":376},{"c":"tDCSafter","s":17,"b":6,"y":366},{"c":"tDCSafter","s":17,"b":7,"y":380},{"c":"tDCSafter","s":17,"b":8,"y":372},{"c":"tDCSafter","s":17,"b":9,"y":374},{"c":"tDCSafter","s":17,"b":10,"y":392},{"c":"tDCSafter","s":17,"b":11,"y":386},{"c":"tDCSafter","s":17,"b":12,"y":372},
      {"c":"tDCSafter","s":18,"b":1,"y":425},{"c":"tDCSafter","s":18,"b":2,"y":415},{"c":"tDCSafter","s":18,"b":3,"y":444},{"c":"tDCSafter","s":18,"b":4,"y":430},{"c":"tDCSafter","s":18,"b":5,"y":460},{"c":"tDCSafter","s":18,"b":6,"y":400},{"c":"tDCSafter","s":18,"b":7,"y":440},{"c":"tDCSafter","s":18,"b":8,"y":418},{"c":"tDCSafter","s":18,"b":9,"y":460},{"c":"tDCSafter","s":18,"b":10,"y":398},{"c":"tDCSafter","s":18,"b":11,"y":410},{"c":"tDCSafter","s":18,"b":12,"y":440},
      {"c":"tDCSafter","s":19,"b":1,"y":437},{"c":"tDCSafter","s":19,"b":2,"y":423},{"c":"tDCSafter","s":19,"b":3,"y":405},{"c":"tDCSafter","s":19,"b":4,"y":445},{"c":"tDCSafter","s":19,"b":5,"y":395},{"c":"tDCSafter","s":19,"b":6,"y":440},{"c":"tDCSafter","s":19,"b":7,"y":418},{"c":"tDCSafter","s":19,"b":8,"y":455},{"c":"tDCSafter","s":19,"b":9,"y":435},{"c":"tDCSafter","s":19,"b":10,"y":452},{"c":"tDCSafter","s":19,"b":11,"y":425},{"c":"tDCSafter","s":19,"b":12,"y":398},
      {"c":"tDCSafter","s":20,"b":1,"y":365},{"c":"tDCSafter","s":20,"b":2,"y":360},{"c":"tDCSafter","s":20,"b":3,"y":372},{"c":"tDCSafter","s":20,"b":4,"y":360},{"c":"tDCSafter","s":20,"b":5,"y":398},{"c":"tDCSafter","s":20,"b":6,"y":382},{"c":"tDCSafter","s":20,"b":7,"y":395},{"c":"tDCSafter","s":20,"b":8,"y":380},{"c":"tDCSafter","s":20,"b":9,"y":420},{"c":"tDCSafter","s":20,"b":10,"y":376},{"c":"tDCSafter","s":20,"b":11,"y":390},{"c":"tDCSafter","s":20,"b":12,"y":368},

      {"c":"CONmp","s":1,"b":1,"y":503},{"c":"CONmp","s":1,"b":2,"y":549},{"c":"CONmp","s":1,"b":3,"y":544},{"c":"CONmp","s":1,"b":4,"y":498},{"c":"CONmp","s":1,"b":5,"y":491},{"c":"CONmp","s":1,"b":6,"y":501},{"c":"CONmp","s":1,"b":7,"y":506},{"c":"CONmp","s":1,"b":8,"y":545},{"c":"CONmp","s":1,"b":9,"y":504},{"c":"CONmp","s":1,"b":10,"y":483},{"c":"CONmp","s":1,"b":11,"y":472},{"c":"CONmp","s":1,"b":12,"y":490},
      {"c":"CONmp","s":2,"b":1,"y":462},{"c":"CONmp","s":2,"b":2,"y":461},{"c":"CONmp","s":2,"b":3,"y":445},{"c":"CONmp","s":2,"b":4,"y":475},{"c":"CONmp","s":2,"b":5,"y":488},{"c":"CONmp","s":2,"b":6,"y":462},{"c":"CONmp","s":2,"b":7,"y":500},{"c":"CONmp","s":2,"b":8,"y":528},{"c":"CONmp","s":2,"b":9,"y":559},{"c":"CONmp","s":2,"b":10,"y":474},{"c":"CONmp","s":2,"b":11,"y":522},{"c":"CONmp","s":2,"b":12,"y":507},
      {"c":"CONmp","s":3,"b":1,"y":438},{"c":"CONmp","s":3,"b":2,"y":437},{"c":"CONmp","s":3,"b":3,"y":425},{"c":"CONmp","s":3,"b":4,"y":456},{"c":"CONmp","s":3,"b":5,"y":472},{"c":"CONmp","s":3,"b":6,"y":470},{"c":"CONmp","s":3,"b":7,"y":448},{"c":"CONmp","s":3,"b":8,"y":452},{"c":"CONmp","s":3,"b":9,"y":462},{"c":"CONmp","s":3,"b":10,"y":470},{"c":"CONmp","s":3,"b":11,"y":482},{"c":"CONmp","s":3,"b":12,"y":490},
      {"c":"CONmp","s":4,"b":1,"y":420},{"c":"CONmp","s":4,"b":2,"y":430},{"c":"CONmp","s":4,"b":3,"y":450},{"c":"CONmp","s":4,"b":4,"y":432},{"c":"CONmp","s":4,"b":5,"y":460},{"c":"CONmp","s":4,"b":6,"y":446},{"c":"CONmp","s":4,"b":7,"y":460},{"c":"CONmp","s":4,"b":8,"y":438},{"c":"CONmp","s":4,"b":9,"y":450},{"c":"CONmp","s":4,"b":10,"y":467},{"c":"CONmp","s":4,"b":11,"y":458},{"c":"CONmp","s":4,"b":12,"y":478},
      {"c":"CONmp","s":5,"b":1,"y":314},{"c":"CONmp","s":5,"b":2,"y":307},{"c":"CONmp","s":5,"b":3,"y":326},{"c":"CONmp","s":5,"b":4,"y":318},{"c":"CONmp","s":5,"b":5,"y":345},{"c":"CONmp","s":5,"b":6,"y":338},{"c":"CONmp","s":5,"b":7,"y":352},{"c":"CONmp","s":5,"b":8,"y":330},{"c":"CONmp","s":5,"b":9,"y":355},{"c":"CONmp","s":5,"b":10,"y":340},{"c":"CONmp","s":5,"b":11,"y":345},{"c":"CONmp","s":5,"b":12,"y":335},
      {"c":"CONmp","s":6,"b":1,"y":326},{"c":"CONmp","s":6,"b":2,"y":330},{"c":"CONmp","s":6,"b":3,"y":342},{"c":"CONmp","s":6,"b":4,"y":350},{"c":"CONmp","s":6,"b":5,"y":352},{"c":"CONmp","s":6,"b":6,"y":362},{"c":"CONmp","s":6,"b":7,"y":340},{"c":"CONmp","s":6,"b":8,"y":348},{"c":"CONmp","s":6,"b":9,"y":325},{"c":"CONmp","s":6,"b":10,"y":348},{"c":"CONmp","s":6,"b":11,"y":358},{"c":"CONmp","s":6,"b":12,"y":340},
      {"c":"CONmp","s":7,"b":1,"y":345},{"c":"CONmp","s":7,"b":2,"y":338},{"c":"CONmp","s":7,"b":3,"y":355},{"c":"CONmp","s":7,"b":4,"y":345},{"c":"CONmp","s":7,"b":5,"y":362},{"c":"CONmp","s":7,"b":6,"y":335},{"c":"CONmp","s":7,"b":7,"y":368},{"c":"CONmp","s":7,"b":8,"y":345},{"c":"CONmp","s":7,"b":9,"y":352},{"c":"CONmp","s":7,"b":10,"y":365},{"c":"CONmp","s":7,"b":11,"y":338},{"c":"CONmp","s":7,"b":12,"y":348},
      {"c":"CONmp","s":8,"b":1,"y":358},{"c":"CONmp","s":8,"b":2,"y":368},{"c":"CONmp","s":8,"b":3,"y":348},{"c":"CONmp","s":8,"b":4,"y":372},{"c":"CONmp","s":8,"b":5,"y":340},{"c":"CONmp","s":8,"b":6,"y":352},{"c":"CONmp","s":8,"b":7,"y":378},{"c":"CONmp","s":8,"b":8,"y":362},{"c":"CONmp","s":8,"b":9,"y":345},{"c":"CONmp","s":8,"b":10,"y":356},{"c":"CONmp","s":8,"b":11,"y":372},{"c":"CONmp","s":8,"b":12,"y":362},
      {"c":"CONmp","s":9,"b":1,"y":370},{"c":"CONmp","s":9,"b":2,"y":352},{"c":"CONmp","s":9,"b":3,"y":372},{"c":"CONmp","s":9,"b":4,"y":390},{"c":"CONmp","s":9,"b":5,"y":375},{"c":"CONmp","s":9,"b":6,"y":372},{"c":"CONmp","s":9,"b":7,"y":390},{"c":"CONmp","s":9,"b":8,"y":388},{"c":"CONmp","s":9,"b":9,"y":372},{"c":"CONmp","s":9,"b":10,"y":380},{"c":"CONmp","s":9,"b":11,"y":355},{"c":"CONmp","s":9,"b":12,"y":376},
      {"c":"CONmp","s":10,"b":1,"y":380},{"c":"CONmp","s":10,"b":2,"y":392},{"c":"CONmp","s":10,"b":3,"y":365},{"c":"CONmp","s":10,"b":4,"y":400},{"c":"CONmp","s":10,"b":5,"y":390},{"c":"CONmp","s":10,"b":6,"y":385},{"c":"CONmp","s":10,"b":7,"y":402},{"c":"CONmp","s":10,"b":8,"y":376},{"c":"CONmp","s":10,"b":9,"y":385},{"c":"CONmp","s":10,"b":10,"y":378},{"c":"CONmp","s":10,"b":11,"y":395},{"c":"CONmp","s":10,"b":12,"y":388},
      {"c":"CONmp","s":11,"b":1,"y":392},{"c":"CONmp","s":11,"b":2,"y":378},{"c":"CONmp","s":11,"b":3,"y":396},{"c":"CONmp","s":11,"b":4,"y":382},{"c":"CONmp","s":11,"b":5,"y":405},{"c":"CONmp","s":11,"b":6,"y":395},{"c":"CONmp","s":11,"b":7,"y":378},{"c":"CONmp","s":11,"b":8,"y":398},{"c":"CONmp","s":11,"b":9,"y":403},{"c":"CONmp","s":11,"b":10,"y":390},{"c":"CONmp","s":11,"b":11,"y":405},{"c":"CONmp","s":11,"b":12,"y":400},
      {"c":"CONmp","s":12,"b":1,"y":400},{"c":"CONmp","s":12,"b":2,"y":412},{"c":"CONmp","s":12,"b":3,"y":388},{"c":"CONmp","s":12,"b":4,"y":410},{"c":"CONmp","s":12,"b":5,"y":395},{"c":"CONmp","s":12,"b":6,"y":408},{"c":"CONmp","s":12,"b":7,"y":412},{"c":"CONmp","s":12,"b":8,"y":405},{"c":"CONmp","s":12,"b":9,"y":395},{"c":"CONmp","s":12,"b":10,"y":405},{"c":"CONmp","s":12,"b":11,"y":388},{"c":"CONmp","s":12,"b":12,"y":412},
      {"c":"CONmp","s":13,"b":1,"y":412},{"c":"CONmp","s":13,"b":2,"y":402},{"c":"CONmp","s":13,"b":3,"y":420},{"c":"CONmp","s":13,"b":4,"y":425},{"c":"CONmp","s":13,"b":5,"y":415},{"c":"CONmp","s":13,"b":6,"y":422},{"c":"CONmp","s":13,"b":7,"y":405},{"c":"CONmp","s":13,"b":8,"y":418},{"c":"CONmp","s":13,"b":9,"y":420},{"c":"CONmp","s":13,"b":10,"y":412},{"c":"CONmp","s":13,"b":11,"y":425},{"c":"CONmp","s":13,"b":12,"y":418},
      {"c":"CONmp","s":14,"b":1,"y":418},{"c":"CONmp","s":14,"b":2,"y":425},{"c":"CONmp","s":14,"b":3,"y":410},{"c":"CONmp","s":14,"b":4,"y":435},{"c":"CONmp","s":14,"b":5,"y":412},{"c":"CONmp","s":14,"b":6,"y":415},{"c":"CONmp","s":14,"b":7,"y":430},{"c":"CONmp","s":14,"b":8,"y":410},{"c":"CONmp","s":14,"b":9,"y":430},{"c":"CONmp","s":14,"b":10,"y":425},{"c":"CONmp","s":14,"b":11,"y":440},{"c":"CONmp","s":14,"b":12,"y":422},
      {"c":"CONmp","s":15,"b":1,"y":425},{"c":"CONmp","s":15,"b":2,"y":418},{"c":"CONmp","s":15,"b":3,"y":436},{"c":"CONmp","s":15,"b":4,"y":415},{"c":"CONmp","s":15,"b":5,"y":440},{"c":"CONmp","s":15,"b":6,"y":430},{"c":"CONmp","s":15,"b":7,"y":425},{"c":"CONmp","s":15,"b":8,"y":430},{"c":"CONmp","s":15,"b":9,"y":420},{"c":"CONmp","s":15,"b":10,"y":440},{"c":"CONmp","s":15,"b":11,"y":432},{"c":"CONmp","s":15,"b":12,"y":430},
      {"c":"CONmp","s":16,"b":1,"y":432},{"c":"CONmp","s":16,"b":2,"y":445},{"c":"CONmp","s":16,"b":3,"y":428},{"c":"CONmp","s":16,"b":4,"y":442},{"c":"CONmp","s":16,"b":5,"y":425},{"c":"CONmp","s":16,"b":6,"y":440},{"c":"CONmp","s":16,"b":7,"y":438},{"c":"CONmp","s":16,"b":8,"y":428},{"c":"CONmp","s":16,"b":9,"y":445},{"c":"CONmp","s":16,"b":10,"y":432},{"c":"CONmp","s":16,"b":11,"y":445},{"c":"CONmp","s":16,"b":12,"y":438},
      {"c":"CONmp","s":17,"b":1,"y":440},{"c":"CONmp","s":17,"b":2,"y":432},{"c":"CONmp","s":17,"b":3,"y":445},{"c":"CONmp","s":17,"b":4,"y":450},{"c":"CONmp","s":17,"b":5,"y":438},{"c":"CONmp","s":17,"b":6,"y":452},{"c":"CONmp","s":17,"b":7,"y":428},{"c":"CONmp","s":17,"b":8,"y":445},{"c":"CONmp","s":17,"b":9,"y":438},{"c":"CONmp","s":17,"b":10,"y":450},{"c":"CONmp","s":17,"b":11,"y":438},{"c":"CONmp","s":17,"b":12,"y":448},
      {"c":"CONmp","s":18,"b":1,"y":445},{"c":"CONmp","s":18,"b":2,"y":455},{"c":"CONmp","s":18,"b":3,"y":415},{"c":"CONmp","s":18,"b":4,"y":402},{"c":"CONmp","s":18,"b":5,"y":432},{"c":"CONmp","s":18,"b":6,"y":420},{"c":"CONmp","s":18,"b":7,"y":445},{"c":"CONmp","s":18,"b":8,"y":420},{"c":"CONmp","s":18,"b":9,"y":435},{"c":"CONmp","s":18,"b":10,"y":405},{"c":"CONmp","s":18,"b":11,"y":420},{"c":"CONmp","s":18,"b":12,"y":432},
      {"c":"CONmp","s":19,"b":1,"y":405},{"c":"CONmp","s":19,"b":2,"y":390},{"c":"CONmp","s":19,"b":3,"y":405},{"c":"CONmp","s":19,"b":4,"y":412},{"c":"CONmp","s":19,"b":5,"y":380},{"c":"CONmp","s":19,"b":6,"y":398},{"c":"CONmp","s":19,"b":7,"y":395},{"c":"CONmp","s":19,"b":8,"y":384},{"c":"CONmp","s":19,"b":9,"y":410},{"c":"CONmp","s":19,"b":10,"y":398},{"c":"CONmp","s":19,"b":11,"y":410},{"c":"CONmp","s":19,"b":12,"y":398},
      {"c":"CONmp","s":20,"b":1,"y":360},{"c":"CONmp","s":20,"b":2,"y":375},{"c":"CONmp","s":20,"b":3,"y":380},{"c":"CONmp","s":20,"b":4,"y":390},{"c":"CONmp","s":20,"b":5,"y":368},{"c":"CONmp","s":20,"b":6,"y":395},{"c":"CONmp","s":20,"b":7,"y":350},{"c":"CONmp","s":20,"b":8,"y":378},{"c":"CONmp","s":20,"b":9,"y":390},{"c":"CONmp","s":20,"b":10,"y":362},{"c":"CONmp","s":20,"b":11,"y":400},{"c":"CONmp","s":20,"b":12,"y":372},

      {"c":"tDCSbefore","s":0,"b":1,"y":396},{"c":"tDCSbefore","s":0,"b":2,"y":398},{"c":"tDCSbefore","s":0,"b":3,"y":395},{"c":"tDCSbefore","s":0,"b":4,"y":394},{"c":"tDCSbefore","s":0,"b":5,"y":391},{"c":"tDCSbefore","s":0,"b":6,"y":394},{"c":"tDCSbefore","s":0,"b":7,"y":391},{"c":"tDCSbefore","s":0,"b":8,"y":393},{"c":"tDCSbefore","s":0,"b":9,"y":395},{"c":"tDCSbefore","s":0,"b":10,"y":393},{"c":"tDCSbefore","s":0,"b":11,"y":393},{"c":"tDCSbefore","s":0,"b":12,"y":388},
      {"c":"tDCSduring","s":0,"b":1,"y":415},{"c":"tDCSduring","s":0,"b":2,"y":421},{"c":"tDCSduring","s":0,"b":3,"y":420},{"c":"tDCSduring","s":0,"b":4,"y":426},{"c":"tDCSduring","s":0,"b":5,"y":425},{"c":"tDCSduring","s":0,"b":6,"y":431},{"c":"tDCSduring","s":0,"b":7,"y":425},{"c":"tDCSduring","s":0,"b":8,"y":428},{"c":"tDCSduring","s":0,"b":9,"y":427},{"c":"tDCSduring","s":0,"b":10,"y":424},{"c":"tDCSduring","s":0,"b":11,"y":427},{"c":"tDCSduring","s":0,"b":12,"y":429},
      {"c":"tDCSafter","s":0,"b":1,"y":404},{"c":"tDCSafter","s":0,"b":2,"y":405},{"c":"tDCSafter","s":0,"b":3,"y":403},{"c":"tDCSafter","s":0,"b":4,"y":396},{"c":"tDCSafter","s":0,"b":5,"y":417},{"c":"tDCSafter","s":0,"b":6,"y":409},{"c":"tDCSafter","s":0,"b":7,"y":404},{"c":"tDCSafter","s":0,"b":8,"y":410},{"c":"tDCSafter","s":0,"b":9,"y":412},{"c":"tDCSafter","s":0,"b":10,"y":407},{"c":"tDCSafter","s":0,"b":11,"y":406},{"c":"tDCSafter","s":0,"b":12,"y":408},
      {"c":"CONmp","s":0,"b":1,"y":405},{"c":"CONmp","s":0,"b":2,"y":406},{"c":"CONmp","s":0,"b":3,"y":406},{"c":"CONmp","s":0,"b":4,"y":413},{"c":"CONmp","s":0,"b":5,"y":411},{"c":"CONmp","s":0,"b":6,"y":412},{"c":"CONmp","s":0,"b":7,"y":410},{"c":"CONmp","s":0,"b":8,"y":409},{"c":"CONmp","s":0,"b":9,"y":415},{"c":"CONmp","s":0,"b":10,"y":409},{"c":"CONmp","s":0,"b":11,"y":418},{"c":"CONmp","s":0,"b":12,"y":407}
    ]
  },
  "vconcat": [
    {
      "data": {"values": [{"c": "tDCSbefore"}, {"c": "tDCSduring"}, {"c": "tDCSafter"}, {"c": "CONmp"}]},
      "facet": {"column": {"field": "c", "sort": ["tDCSbefore", "tDCSduring", "tDCSafter", "CONmp"], "header": {"title": null, "labels": false}}},
      "spacing": 12,
      "spec": {
        "width": 258,
        "height": 30,
        "view": {"stroke": "black", "strokeWidth": 1.5, "fill": "white"},
        "mark": {"type": "text", "fontSize": 17, "font": "Liberation Sans", "color": "#1a1a1a", "baseline": "middle", "align": "center"},
        "encoding": {"text": {"field": "c"}}
      }
    },
    {
      "data": {"name": "rt"},
      "facet": {"column": {"field": "c", "sort": ["tDCSbefore", "tDCSduring", "tDCSafter", "CONmp"], "header": {"title": null, "labels": false}}},
      "spacing": 12,
      "spec": {
        "width": 258,
        "height": 402,
        "encoding": {
          "x": {"field": "b", "type": "quantitative", "scale": {"domain": [0.4, 12.6], "nice": false, "zero": false}, "axis": {"values": [1,2,3,4,5,6,7,8,9,10,11,12], "format": "d", "title": null, "labelPadding": 0}},
          "y": {"field": "y", "type": "quantitative", "scale": {"domain": [273.1, 615], "nice": false, "zero": false}, "axis": {"values": [300, 350, 400, 450, 500, 550], "title": "RT (ms)", "titlePadding": 11}}
        },
        "layer": [
          {
            "transform": [{"filter": "datum.s > 0"}],
            "mark": {"type": "line", "color": "#a6a6a6", "strokeWidth": 1.5},
            "encoding": {"detail": {"field": "s"}}
          },
          {
            "transform": [{"filter": "datum.s > 0"}],
            "mark": {"type": "circle", "color": "#a6a6a6", "size": 38, "opacity": 1}
          },
          {
            "transform": [{"filter": "datum.s == 0"}, {"regression": "y", "on": "b", "groupby": ["c"]}],
            "mark": {"type": "line", "color": "#0000aa", "strokeWidth": 3}
          },
          {
            "transform": [{"filter": "datum.s == 0"}],
            "mark": {"type": "point", "shape": "triangle-up", "filled": true, "color": "#0000aa", "size": 260, "opacity": 1}
          }
        ]
      }
    }
  ]
}
